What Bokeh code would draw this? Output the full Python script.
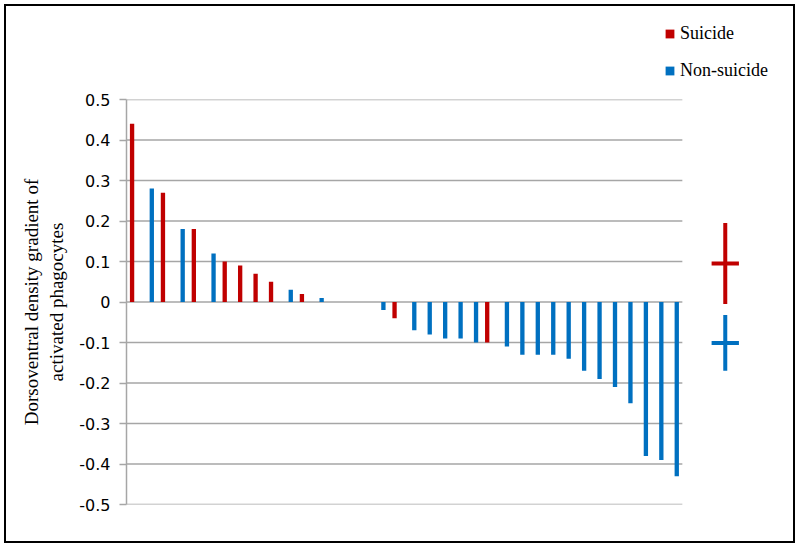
from bokeh.plotting import figure
from bokeh.layouts import column
from bokeh.models import Range1d, FixedTicker, ColumnDataSource, Legend, LegendItem
from bokeh.transform import dodge
from bokeh.embed import file_html
from bokeh.resources import INLINE

# ---- data ----
n_subjects = 36
suicide_subject = [0, 2, 4, 6, 7, 8, 9, 11, 17, 23]
suicide_value = [0.44, 0.27, 0.18, 0.10, 0.09, 0.07, 0.05, 0.02, -0.04, -0.10]
nonsuicide_subject = [1, 3, 5, 10, 12, 16, 18, 19, 20, 21, 22, 24, 25, 26, 27, 28,
                      29, 30, 31, 32, 33, 34, 35]
nonsuicide_value = [0.28, 0.18, 0.12, 0.03, 0.01, -0.02, -0.07, -0.08, -0.09, -0.09,
                    -0.10, -0.11, -0.13, -0.13, -0.13, -0.14, -0.17, -0.19, -0.21,
                    -0.25, -0.38, -0.39, -0.43]
group_names = ["Suicide", "Non-suicide"]
group_mean = [0.095, -0.101]
group_sd = [0.100, 0.069]
y_ticks = [-0.5, -0.4, -0.3, -0.2, -0.1, 0, 0.1, 0.2, 0.3, 0.4, 0.5]
y_tick_labels = ["-0.5", "-0.4", "-0.3", "-0.2", "-0.1", "0", "0.1", "0.2", "0.3", "0.4", "0.5"]

# ---- layout constants ----
RED = "#c00000"
BLUE = "#0070c0"
GRID = "#a6a6a6"
W = 787
TOP_H = 83
MAIN_H = 452
ML, MT, MB = 120, 10, 37
cat_px = 15.44
frame_w = W - ML
bar_w = 0.28
cross_x = 38.28
cross_half = 0.885

# ---- legend strip (top) ----
pt = figure(width=W, height=TOP_H, x_range=Range1d(0, 1), y_range=Range1d(0, 1),
            output_backend="svg", toolbar_location=None,
            min_border_left=0, min_border_right=0, min_border_top=0, min_border_bottom=0,
            outline_line_color=None, background_fill_color="white",
            border_fill_color="white")
pt.axis.visible = False
pt.grid.visible = False
leg_renderers = []
for name, m, c in zip(group_names, group_mean, [RED, BLUE]):
    src = ColumnDataSource(dict(group=[name], mean=[m]))
    leg_renderers.append(pt.vbar(x=0.5, top="mean", width=0.1, source=src,
                                 fill_color=c, line_color=None, visible=False))
legend = Legend(items=[LegendItem(label=n, renderers=[r])
                       for n, r in zip(group_names, leg_renderers)],
                location=(538, 8), padding=0, margin=0, spacing=16,
                glyph_width=11, glyph_height=11, label_height=20,
                label_standoff=5, border_line_color=None,
                background_fill_alpha=0, inactive_fill_alpha=0,
                label_text_font="Liberation Serif", label_text_font_size="18px",
                label_text_color="black")
pt.add_layout(legend)

# ---- main chart ----
p = figure(width=W, height=MAIN_H,
           x_range=Range1d(-0.5, -0.5 + frame_w / cat_px),
           y_range=Range1d(y_ticks[0], y_ticks[-1]),
           output_backend="svg", toolbar_location=None,
           min_border_left=ML, min_border_right=0, min_border_top=MT,
           min_border_bottom=MB, outline_line_color=None,
           background_fill_color="white", border_fill_color="white")

p.xgrid.visible = False
p.ygrid.visible = False
p.xaxis.visible = False

# gridlines limited to the category area
p.segment(x0=[-0.5] * len(y_ticks), x1=[n_subjects - 0.5] * len(y_ticks),
          y0=y_ticks, y1=y_ticks, line_color=GRID, line_width=1.5)

src_s = ColumnDataSource(dict(subject=suicide_subject, value=suicide_value))
src_n = ColumnDataSource(dict(subject=nonsuicide_subject, value=nonsuicide_value))
p.vbar(x=dodge("subject", -0.139), top="value", bottom=0, width=bar_w,
       source=src_s, fill_color=RED, line_color=None)
p.vbar(x=dodge("subject", 0.139), top="value", bottom=0, width=bar_w,
       source=src_n, fill_color=BLUE, line_color=None)

# mean +/- sd crosses
for m, sd, c in zip(group_mean, group_sd, [RED, BLUE]):
    p.segment(x0=[cross_x], x1=[cross_x], y0=[m - sd], y1=[m + sd],
              line_color=c, line_width=4, line_cap="butt")
    p.segment(x0=[cross_x - cross_half], x1=[cross_x + cross_half], y0=[m], y1=[m],
              line_color=c, line_width=4, line_cap="butt")

ax = p.yaxis[0]
ax.ticker = FixedTicker(ticks=y_ticks)
ax.major_label_overrides = {t: l for t, l in zip(y_ticks, y_tick_labels)}
ax.axis_line_color = GRID
ax.axis_line_width = 1.5
ax.major_tick_line_color = GRID
ax.major_tick_line_width = 1.5
ax.major_tick_out = 7
ax.major_tick_in = 0
ax.minor_tick_line_color = None
ax.major_label_text_font = "DejaVu Sans"
ax.major_label_text_font_size = "16px"
ax.major_label_text_color = "black"
ax.major_label_standoff = 9
ax.axis_label = "Dorsoventral density gradient of\nactivated phagocytes"
ax.axis_label_text_font = "Liberation Serif"
ax.axis_label_text_font_size = "19px"
ax.axis_label_text_font_style = "normal"
ax.axis_label_text_color = "black"
ax.axis_label_standoff = 9

layout = column(pt, p, spacing=0,
                styles={"border": "2px solid black", "margin": "4px 0 0 4px"})

open("out.html", "w").write(file_html(layout, INLINE))
